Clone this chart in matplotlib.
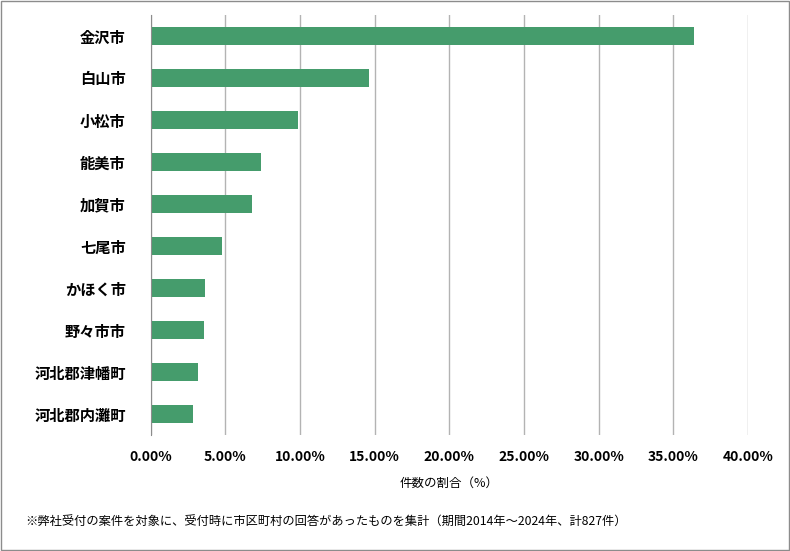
import matplotlib
matplotlib.use("Agg")
import matplotlib.pyplot as plt
from matplotlib.ticker import FuncFormatter

plt.rcParams['font.family'] = ['Noto Sans CJK JP', 'DejaVu Sans']

# data (share of cases, %)
cities = ["金沢市", "白山市", "小松市", "能美市", "加賀市",
          "七尾市", "かほく市", "野々市市", "河北郡津幡町", "河北郡内灘町"]
shares = [36.4, 14.6, 9.85, 7.4, 6.8, 4.8, 3.65, 3.55, 3.15, 2.85]
xticks = [0, 5, 10, 15, 20, 25, 30, 35, 40]

bar_color = "#459c6c"

fig = plt.figure(figsize=(7.9, 5.51), dpi=100)
ax = fig.add_axes([0.1908, 0.2105, 0.7560, 0.7623])

ypos = list(range(len(cities)))
ax.barh(ypos, shares, height=0.43, color=bar_color, zorder=3)
ax.set_ylim(len(cities) - 0.5, -0.5)
ax.set_yticks(ypos)
ax.set_yticklabels(cities, fontsize=11, fontweight="bold")

ax.set_xlim(0, 40)
ax.set_xticks(xticks)
ax.xaxis.set_major_formatter(FuncFormatter(lambda v, p: f"{v:.2f}%"))
for lbl in ax.get_xticklabels():
    lbl.set_fontweight("bold")
    lbl.set_fontsize(10)
ax.tick_params(axis="both", length=0)
ax.tick_params(axis="y", pad=18)
ax.tick_params(axis="x", pad=11)

ax.grid(axis="x", color="#b3b3b3", linewidth=1, zorder=0)
for s in ["top", "right", "bottom"]:
    ax.spines[s].set_visible(False)
ax.spines["left"].set_color("#8c8c8c")
ax.spines["left"].set_zorder(4)

ax.set_xlabel("件数の割合（%）", fontsize=9, labelpad=9)

fig.text(25 / 790, 1 - 522 / 551,
         "※弊社受付の案件を対象に、受付時に市区町村の回答があったものを集計（期間2014年～2024年、計827件）",
         fontsize=8.8, va="center", ha="left")

# outer border
fig.patches.append(plt.Rectangle((0.001, 0.001), 0.998, 0.998, transform=fig.transFigure,
                                 fill=False, edgecolor="#8c8c8c", linewidth=1))

fig.savefig("out.png", dpi=100)
